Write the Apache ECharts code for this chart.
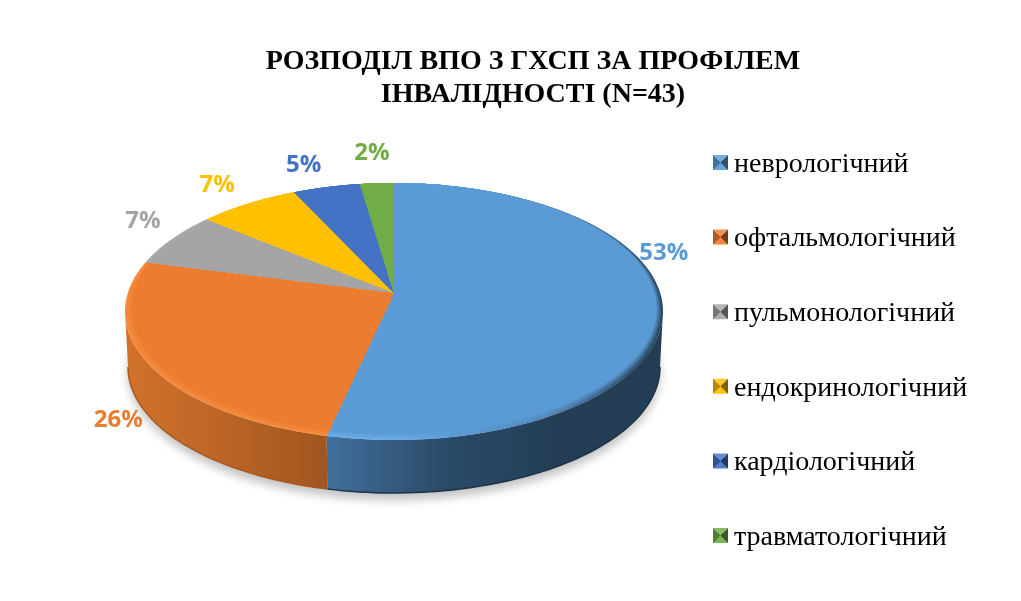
<!DOCTYPE html>
<html>
<head>
<meta charset="utf-8">
<style>html,body{margin:0;padding:0;background:#fff}#c{width:1021px;height:601px}</style>
<script src="https://cdn.jsdelivr.net/npm/echarts@6/dist/echarts.min.js"></script>
</head>
<body>
<div id="c"></div>
<script>
var titleText = 'РОЗПОДІЛ ВПО З ГХСП ЗА ПРОФІЛЕМ\nІНВАЛІДНОСТІ (N=43)';
var categories = ['неврологічний','офтальмологічний','пульмонологічний','ендокринологічний','кардіологічний','травматологічний'];
var counts = [23, 11, 3, 3, 2, 1];
var colors = ['#5B9BD5','#EB7C30','#A5A5A5','#FFC000','#4472C4','#70AD47'];

// Label displacement from each slice's mid-rim point
var labelOffsets = [[1,-54],[-30,56],[-29,-18],[-31,-18],[-23,-22],[-5,-30]];

// 3D look: per-slice rim and wall shading, stops across the pie width
var rimStops = [
  [[0,'#6CACEA'],[0.5,'#6CACEA'],[0.62,'#5B9BD5'],[0.78,'#4F87B9'],[0.92,'#2F5473'],[1,'#243E55']],
  [[0,'#F68C3C'],[1,'#F48A3E']],
  [[0,'#ABABAB'],[1,'#ABABAB']],
  [[0,'#FFC000'],[1,'#FFC000']],
  [[0,'#4472C4'],[1,'#4472C4']],
  [[0,'#70AD47'],[1,'#70AD47']]
];
var wallStops = [
  [[0,'#243E55'],[0.38,'#41709C'],[0.47,'#375F85'],[0.6,'#2A4A68'],[0.8,'#243E55'],[1,'#233D54']],
  [[0,'#D2722B'],[0.18,'#BC6526'],[0.38,'#A0551F'],[1,'#A0551F']],
  null, null, null, null
];
var wallEdge = ['#1B3347','#A8591F'];

var TOP = {cx:394, cy:311.5, rx:269, ry:128.5};
var LOW = {cx:394, cy:367, rx:266, ry:126};
var INNER = {cx:394.5, cy:308.5, rx:262, ry:125.5};
var TILT = -0.145;
var APEX = {x:TOP.cx, y:TOP.cy + TILT*TOP.ry};
var RINGS = 6;

var total = counts.reduce(function(a,b){return a+b;},0);
var starts = [], acc = 0;
counts.forEach(function(v){ starts.push(acc/total*360); acc += v; });

function disk(deg){
  var t = deg*Math.PI/180, u = Math.sin(t), v = -Math.cos(t);
  var d = 1 + TILT*v;
  return {u: u*Math.sqrt(1-TILT*TILT)/d, v: (v+TILT)/d};
}
function onEllipse(e, deg){ var p = disk(deg); return [e.cx+e.rx*p.u, e.cy+e.ry*p.v]; }
function lerpE(a,b,k){ return {cx:a.cx+(b.cx-a.cx)*k, cy:a.cy+(b.cy-a.cy)*k, rx:a.rx+(b.rx-a.rx)*k, ry:a.ry+(b.ry-a.ry)*k}; }
function rayHit(e, deg){
  var P = onEllipse(TOP, deg), dx = P[0]-APEX.x, dy = P[1]-APEX.y;
  var ax = (APEX.x-e.cx)/e.rx, ay = (APEX.y-e.cy)/e.ry, bx = dx/e.rx, by = dy/e.ry;
  var A = bx*bx+by*by, B = 2*(ax*bx+ay*by), C = ax*ax+ay*ay-1;
  var t = (-B+Math.sqrt(B*B-4*A*C))/(2*A);
  return [APEX.x+t*dx, APEX.y+t*dy];
}
function arc(e, a, b, fn){
  var pts = [], n = Math.max(2, Math.ceil(Math.abs(b-a)/1.5));
  for (var i=0;i<=n;i++) pts.push(fn(e, a+(b-a)*i/n));
  return pts;
}
function hex(c){ return [parseInt(c.substr(1,2),16),parseInt(c.substr(3,2),16),parseInt(c.substr(5,2),16)]; }
function mix(a,b,k){ var p=hex(a),q=hex(b); return 'rgb('+[0,1,2].map(function(i){return Math.round(p[i]+(q[i]-p[i])*k);}).join(',')+')'; }
function xGrad(stops, face, k){
  return new echarts.graphic.LinearGradient(TOP.cx-TOP.rx,0,TOP.cx+TOP.rx,0,
    stops.map(function(s){ return {offset:s[0], color: face ? mix(s[1],face,k) : s[1]}; }), true);
}
// Angles where the rim reaches its left and right extremes: the visible wall lies between them
var sideAngle = Math.acos(TILT)*180/Math.PI;
var wallFrom = sideAngle, wallTo = 360-sideAngle;

function sliceRender(i){
  return function(){
    var a = starts[i], b = a + counts[i]/total*360, kids = [];
    var wa = Math.max(a, wallFrom), wb = Math.min(b, wallTo);
    if (wallStops[i] && wb > wa) {
      var low = arc(LOW, wa, wb, onEllipse);
      kids.push({type:'polygon', shape:{points: arc(TOP, wa, wb, onEllipse).concat(low.slice().reverse())}, style:{fill:xGrad(wallStops[i])}});
      kids.push({type:'polyline', shape:{points: low}, style:{fill:null, stroke:wallEdge[i], lineWidth:1.5}});
    }
    for (var k=0;k<=RINGS;k++){
      var e = lerpE(TOP, INNER, k/RINGS);
      var pts = [[APEX.x,APEX.y]].concat(arc(e, a, b, rayHit));
      kids.push({type:'polygon', shape:{points:pts},
        style:{fill: k===RINGS ? colors[i] : xGrad(rimStops[i], colors[i], k/RINGS)}});
    }
    var mid = onEllipse(TOP, (a+b)/2);
    kids.push({type:'text', x: mid[0]+labelOffsets[i][0], y: mid[1]+labelOffsets[i][1], z2:10,
      style:{text: Math.round(counts[i]/total*100)+'%', fill:colors[i], font:'bold 24px "Open Sans"', align:'center', verticalAlign:'middle'}});
    return {type:'group', children:kids};
  };
}
function shadowRender(){
  return {type:'polygon', shape:{points: arc(LOW, 0, 360, onEllipse)},
    style:{fill:'#cfcfcf', shadowColor:'rgba(0,0,0,0.24)', shadowBlur:10, shadowOffsetY:7, shadowOffsetX:0}};
}

var LEG = {x:713, top:155, step:74.6, size:15, textH:28, textCenter:164.5};
function legendCaps(){
  var kids = [];
  categories.forEach(function(n,i){
    var x = LEG.x, y = LEG.top+i*LEG.step, s = LEG.size, c = [x+s/2, y+s/2];
    kids.push({type:'polygon', shape:{points:[[x,y],[x+s,y],c]}, style:{fill:mix(colors[i],'#FFFFFF',0.18)}});
    kids.push({type:'polygon', shape:{points:[[x,y+s],[x+s,y+s],c]}, style:{fill:mix(colors[i],'#FFFFFF',0.08)}});
    kids.push({type:'polygon', shape:{points:[[x,y],[x,y+s],c]}, style:{fill:mix(colors[i],'#000000',0.28)}});
    kids.push({type:'polygon', shape:{points:[[x+s,y],[x+s,y+s],c]}, style:{fill:mix(colors[i],'#000000',0.5)}});
  });
  return {type:'group', children:kids};
}

var series = [{type:'custom', name:'_shadow', coordinateSystem:'none', silent:true, data:[0], renderItem:shadowRender}];
categories.forEach(function(n,i){
  series.push({type:'custom', name:n, coordinateSystem:'none', silent:true, data:[counts[i]],
    itemStyle:{color:colors[i]}, renderItem:sliceRender(i)});
});
series.push({type:'custom', name:'_caps', coordinateSystem:'none', silent:true, data:[0], z:20, renderItem:legendCaps});

var chart = echarts.init(document.getElementById('c'), null, {renderer:'canvas'});
chart.setOption({
  animation:false,
  backgroundColor:'#fff',
  title:{text:titleText, left:528, top:40, textAlign:'center',
    textStyle:{fontFamily:'"Liberation Serif"', fontWeight:'bold', fontSize:28, lineHeight:33, color:'#000'}},
  legend:{orient:'vertical', left:LEG.x-5, top:LEG.textCenter-LEG.textH/2-5, padding:5, itemWidth:LEG.size, itemHeight:9, itemGap:LEG.step-LEG.textH, icon:'rect',
    selectedMode:false,
    data:categories,
    textStyle:{fontFamily:'"Liberation Serif"', fontSize:28, color:'#000', lineHeight:LEG.textH, padding:[0,0,0,1]}},
  series:series
});
</script>
</body>
</html>
